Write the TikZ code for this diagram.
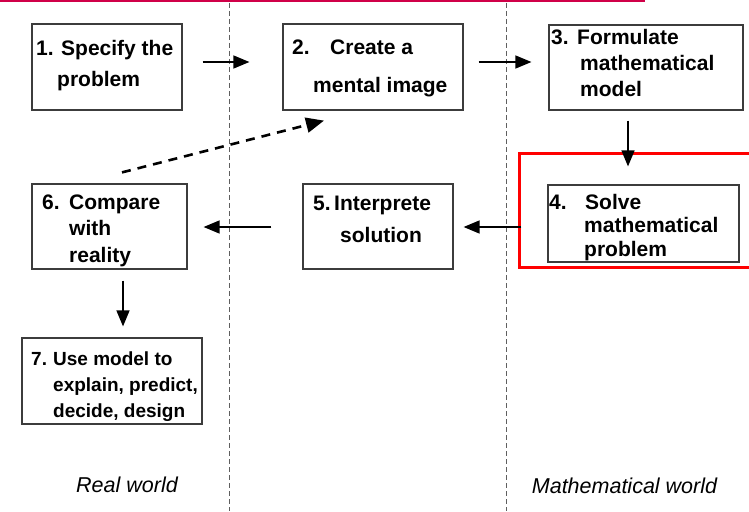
\documentclass[tikz,border=0pt]{standalone}
\usepackage{fontspec}
\setmainfont{Liberation Sans}
\usetikzlibrary{arrows.meta}
\definecolor{topred}{RGB}{208,0,72}
\definecolor{boxgray}{RGB}{60,60,60}
\definecolor{divgray}{RGB}{95,95,95}
\begin{document}
\begin{tikzpicture}[x=1pt,y=-1pt,
  box/.style={draw=boxgray,line width=1.2pt,inner sep=0pt},
  txt/.style={inner sep=0pt,anchor=base west,font=\bfseries\fontsize{21}{21}\selectfont},
  smalltxt/.style={txt,font=\bfseries\fontsize{19}{19}\selectfont},
  world/.style={inner sep=0pt,anchor=base,font=\itshape\fontsize{21.5}{21.5}\selectfont},
  arr/.style={line width=1.5pt,-{Triangle[length=16pt,width=13pt]}},
  dasharr/.style={line width=2.6pt,dash pattern=on 9pt off 7pt,-{Triangle[length=18pt,width=15pt]}},
  divider/.style={draw=divgray,line width=1pt,dash pattern=on 5pt off 3pt},
  highlight/.style={draw=red,line width=3pt}]
\useasboundingbox (0,0) rectangle (749,511);
\fill[topred] (0,0) rectangle (645,2.5);
% dividers
\draw[divider] (229,3) -- (229,511);
\draw[divider] (506,3) -- (506,511);
% red highlight
\draw[highlight] (752,153) -- (519,153) -- (519,267) -- (752,267);
% boxes
\node[box,minimum width=150pt,minimum height=86pt] (b1) at (107,67) {};
\node[box,minimum width=180pt,minimum height=86pt] (b2) at (373,67) {};
\node[box,minimum width=194pt,minimum height=85pt] (b3) at (646,67.5) {};
\node[box,minimum width=191pt,minimum height=77pt] (b4) at (643.5,223.5) {};
\node[box,minimum width=150pt,minimum height=85pt] (b5) at (378,226.5) {};
\node[box,minimum width=155pt,minimum height=85pt] (b6) at (109.5,226.5) {};
\node[box,minimum width=180pt,minimum height=86pt] (b7) at (112,381) {};
% texts
\node[txt] (t1) at (36,56) {\vtop{\baselineskip=31pt\lineskiplimit=-50pt
  \hbox{\makebox[25pt][l]{1.}Specify the}\hbox{\hskip21pt problem}}};
\node[txt] (t2) at (292,55) {\vtop{\baselineskip=38pt\lineskiplimit=-50pt
  \hbox{\makebox[38pt][l]{2.}Create a}\hbox{\hskip21pt mental image}}};
\node[txt] (t3) at (551,45) {\vtop{\baselineskip=26pt\lineskiplimit=-50pt
  \hbox{\makebox[26pt][l]{3.}Formulate}\hbox{\hskip29pt mathematical}\hbox{\hskip29pt model}}};
\node[txt] (t4) at (549,209) {\vtop{\baselineskip=23.5pt\lineskiplimit=-50pt
  \hbox{\makebox[36pt][l]{4.}Solve}\hbox{\hskip35pt mathematical}\hbox{\hskip35pt problem}}};
\node[txt] (t5) at (313,210) {\vtop{\baselineskip=32pt\lineskiplimit=-50pt
  \hbox{\makebox[21pt][l]{5.}Interprete}\hbox{\hskip27pt solution}}};
\node[txt] (t6) at (42,209) {\vtop{\baselineskip=26.5pt\lineskiplimit=-50pt
  \hbox{\makebox[27pt][l]{6.}Compare}\hbox{\hskip27pt with}\hbox{\hskip27pt reality}}};
\node[smalltxt] (t7) at (31,365) {\vtop{\baselineskip=26pt\lineskiplimit=-50pt
  \hbox{\makebox[22pt][l]{7.}Use model to}\hbox{\hskip22pt explain, predict,}\hbox{\hskip22pt decide, design}}};
% world labels
\node[world] (rw) at (127,492) {Real world};
\node[world] (mw) at (624.5,493) {Mathematical world};
% connectors
\draw[arr] ([shift={(20,-5)}]b1.east) -- ([shift={(-33,-5)}]b2.west);
\draw[arr] ([shift={(15,-5)}]b2.east) -- ([shift={(-17,-5.5)}]b3.west);
\draw[arr] ([shift={(-18,10)}]b3.south) -- ([shift={(-15.5,-18)}]b4.north);
\draw[arr] ([shift={(-26,3.5)}]b4.west) -- ([shift={(10,0.5)}]b5.east);
\draw[arr] ([shift={(-31,0.5)}]b5.west) -- ([shift={(16,0.5)}]b6.east);
\draw[arr] ([shift={(13.5,11)}]b6.south) -- ([shift={(11,-11)}]b7.north);
\draw[dasharr] ([shift={(12.5,-11)}]b6.north) -- ([shift={(-49,10)}]b2.south);
\end{tikzpicture}
\end{document}
